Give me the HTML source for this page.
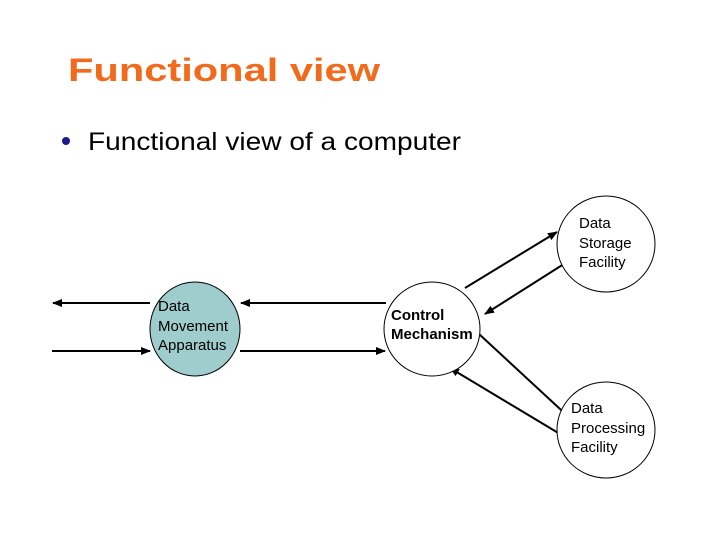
<!DOCTYPE html>
<html><head><meta charset="utf-8"><style>body{margin:0;background:#fff}svg{display:block}</style></head>
<body>
<svg width="720" height="540" viewBox="0 0 720 540" xmlns="http://www.w3.org/2000/svg" font-family="Liberation Sans, sans-serif">
<defs>
<marker id="a" markerWidth="10" markerHeight="8" refX="9" refY="4" orient="auto" markerUnits="userSpaceOnUse">
<path d="M0,0 L10,4 L0,8 z" fill="#000"/></marker>
</defs>
<text x="68" y="81" font-size="32" font-weight="bold" fill="#f26b1d" textLength="312" lengthAdjust="spacingAndGlyphs">Functional view</text>
<circle cx="66" cy="141" r="4" fill="#1a1a8c"/>
<text x="88" y="150" font-size="25" fill="#000" textLength="373" lengthAdjust="spacingAndGlyphs">Functional view of a computer</text>
<g stroke="#000" stroke-width="2" fill="none">
<line x1="150" y1="303" x2="53" y2="303" marker-end="url(#a)"/>
<line x1="52" y1="351" x2="150" y2="351" marker-end="url(#a)"/>
<line x1="386" y1="303" x2="241" y2="303" marker-end="url(#a)"/>
<line x1="240" y1="351" x2="385" y2="351" marker-end="url(#a)"/>
<line x1="465" y1="288" x2="557" y2="232" marker-end="url(#a)"/>
<line x1="567" y1="262" x2="485" y2="314" marker-end="url(#a)"/>
<line x1="479" y1="334" x2="573" y2="421" marker-end="url(#a)"/>
<line x1="565" y1="437" x2="450" y2="368" marker-end="url(#a)"/>
</g>
<ellipse cx="195" cy="329" rx="45" ry="47" fill="#9fcccc" stroke="#000" stroke-width="1"/>
<ellipse cx="432" cy="329" rx="48" ry="47" fill="#fff" stroke="#000" stroke-width="1"/>
<ellipse cx="606" cy="244" rx="49" ry="48" fill="#fff" stroke="#000" stroke-width="1"/>
<ellipse cx="606" cy="430" rx="49" ry="48" fill="#fff" stroke="#000" stroke-width="1"/>
<g font-size="15" fill="#000">
<text x="158" y="311">Data</text><text x="158" y="331">Movement</text><text x="158" y="350">Apparatus</text>
<text x="391" y="320" font-weight="bold">Control</text><text x="391" y="339" font-weight="bold">Mechanism</text>
<text x="579" y="228">Data</text><text x="579" y="248">Storage</text><text x="579" y="267">Facility</text>
<text x="571" y="413">Data</text><text x="571" y="433">Processing</text><text x="571" y="452">Facility</text>
</g>
</svg>
</body></html>
